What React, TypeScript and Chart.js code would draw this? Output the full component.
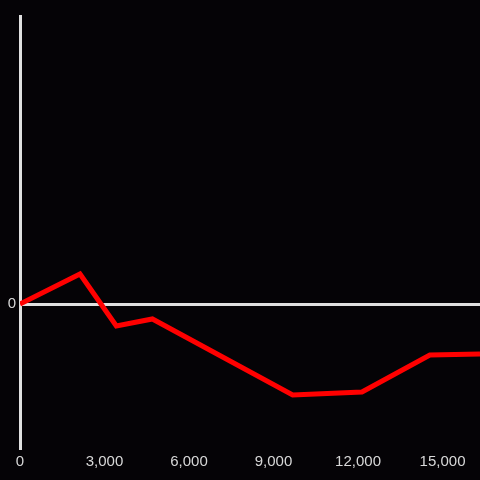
import React, { useEffect, useRef } from "react";
import { Chart, registerables } from "chart.js";

Chart.register(...registerables);

const xValues = [0, 2130, 3420, 4700, 9680, 12140, 14550, 16330];
const yValues = [0, 0.208, -0.153, -0.104, -0.632, -0.611, -0.354, -0.347];
const xTicks = [0, 3000, 6000, 9000, 12000, 15000];

export default function App() {
  const ref = useRef<HTMLCanvasElement>(null);
  useEffect(() => {
    document.body.style.margin = "0";
    document.body.style.background = "#050306";
    const chart = new Chart(ref.current!, {
      type: "line",
      data: {
        datasets: [
          {
            data: xValues.map((x, i) => ({ x, y: yValues[i] })),
            borderColor: "#ff0000",
            borderWidth: 5,
            pointRadius: 0,
            tension: 0,
            fill: false,
          },
        ],
      },
      options: {
        animation: false,
        responsive: false,
        layout: { padding: { top: 16, left: 0, right: 0, bottom: 0 } },
        plugins: { legend: { display: false }, tooltip: { enabled: false } },
        scales: {
          x: {
            type: "linear",
            min: 0,
            max: 16330,
            afterBuildTicks: (s: any) => {
              s.ticks = xTicks.map((v) => ({ value: v }));
            },
            afterFit: (s: any) => {
              s.height = 32;
            },
            grid: { display: false, drawTicks: false },
            border: { display: false },
            ticks: {
              color: "#d8d8d8",
              font: { family: "Liberation Sans, Arial", size: 15 },
              padding: 5,
              maxRotation: 0,
              autoSkip: false,
              callback: (v: any) => Number(v).toLocaleString("en-US"),
            },
          },
          y: {
            type: "linear",
            min: -1,
            max: 2,
            afterBuildTicks: (s: any) => {
              s.ticks = [{ value: 0 }];
            },
            afterFit: (s: any) => {
              s.width = 20;
            },
            grid: {
              color: "#e0e0e0",
              lineWidth: 3,
              drawTicks: false,
            },
            border: { display: true, color: "#e0e0e0", width: 3 },
            ticks: {
              color: "#d8d8d8",
              font: { family: "Liberation Sans, Arial", size: 15 },
              padding: 4,
              callback: () => "0",
            },
          },
        },
      },
    });
    return () => chart.destroy();
  }, []);
  return (
    <div style={{ position: "fixed", left: 0, top: 0, width: 480, height: 480, background: "#050306" }}>
      <canvas ref={ref} width={480} height={480} />
    </div>
  );
}
